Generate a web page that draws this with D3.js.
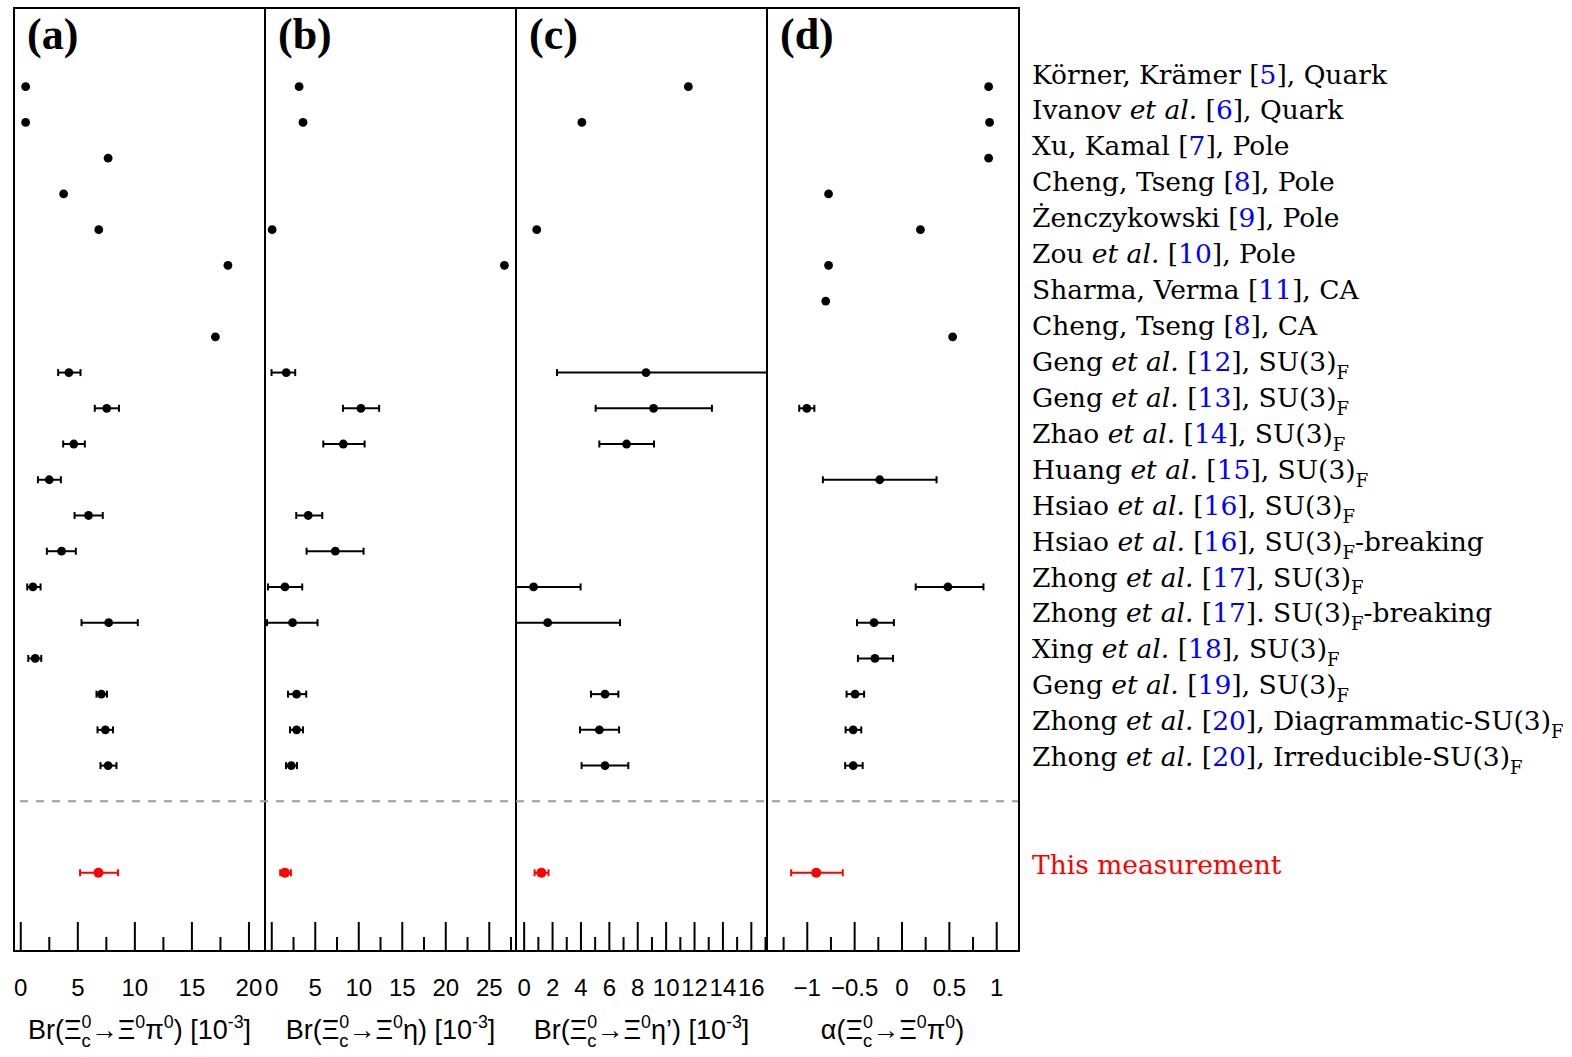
<!DOCTYPE html>
<html>
<head>
<meta charset="utf-8">
<script src="https://cdn.jsdelivr.net/npm/d3@7"></script>
<style>
  body { margin: 0; background: #fff; }
</style>
</head>
<body>
<div id="chart"></div>
<script>
// ---- data ----
var panelLabels = ["(a)", "(b)", "(c)", "(d)"];
var axisTitles = [
    "Br(Ξ^{0}_{c}→Ξ^{0}π^{0}) [10^{-3}]",
    "Br(Ξ^{0}_{c}→Ξ^{0}η) [10^{-3}]",
    "Br(Ξ^{0}_{c}→Ξ^{0}η’) [10^{-3}]",
    "α(Ξ^{0}_{c}→Ξ^{0}π^{0})"
];

// predictions, one entry per legend row (null = no prediction / no error bar)
var brPi0   = [0.47, 0.47, 7.7, 3.8, 6.88, 18.2, null, 17.1, 4.26, 7.58, 4.69, 2.54, 5.98, 3.62, 1.11, 7.75, 1.31, 7.11, 7.46, 7.7];
var brPi0Lo = [null, null, null, null, null, null, null, null, 0.94, 1.05, 0.93, 0.99, 1.22, 1.29, 0.5, 2.38, 0.61, 0.43, 0.69, 0.67];
var brPi0Hi = [null, null, null, null, null, null, null, null, 1.02, 1.07, 0.97, 1.02, 1.25, 1.25, 0.67, 2.55, 0.53, 0.49, 0.67, 0.73];

var brEta   = [3.2, 3.65, null, null, 0.1, 26.8, null, null, 1.72, 10.3, 8.28, null, 4.25, 7.36, 1.57, 2.45, null, 2.91, 2.91, 2.3];
var brEtaLo = [null, null, null, null, null, null, null, null, 1.69, 2.06, 2.3, null, 1.38, 3.3, 1.95, 2.94, null, 0.99, 0.76, 0.61];
var brEtaHi = [null, null, null, null, null, null, null, null, 1.03, 2.1, 2.45, null, 1.61, 3.25, 1.99, 2.87, null, 1.11, 0.74, 0.66];

var brEtaP   = [11.6, 4.1, null, null, 0.92, null, null, null, 8.62, 9.15, 7.25, null, null, null, 0.7, 1.69, null, 5.73, 5.33, 5.73];
var brEtaPLo = [null, null, null, null, null, null, null, null, 6.27, 4.08, 1.92, null, null, null, 3.3, 5.1, null, 0.99, 1.36, 1.65];
var brEtaPHi = [null, null, null, null, null, null, null, null, 10, 4.11, 1.93, null, null, null, 3.31, 5.1, null, 0.94, 1.39, 1.64];

var alpha   = [0.92, 0.93, 0.92, -0.77, 0.2, -0.77, -0.8, 0.54, null, -1.0, null, -0.23, null, null, 0.49, -0.29, -0.28, -0.49, -0.51, -0.51];
var alphaLo = [null, null, null, null, null, null, null, null, null, 0.08, null, 0.6, null, null, 0.34, 0.18, 0.18, 0.09, 0.08, 0.085];
var alphaHi = [null, null, null, null, null, null, null, null, null, 0.08, null, 0.6, null, null, 0.375, 0.21, 0.19, 0.095, 0.085, 0.1];

// this measurement (a, b, c, d)
var measVal = [6.85, 1.57, 1.25, -0.9];
var measLo  = [1.61, 0.54, 0.48, 0.265];
var measHi  = [1.72, 0.69, 0.5, 0.28];

// axis ranges and ticks
var xDomains = [[-0.55, 21.45], [-0.72, 28.13], [-0.54, 17.14], [-1.42, 1.23]];
var majorTicks = [[0, 5, 10, 15, 20], [0, 5, 10, 15, 20, 25], [0, 2, 4, 6, 8, 10, 12, 14, 16], [-1, -0.5, 0, 0.5, 1]];
var minorTicks = [[2.5, 7.5, 12.5, 17.5], [2.5, 7.5, 12.5, 17.5, 22.5, 27.5], [1, 3, 5, 7, 9, 11, 13, 15, 17], [-1.25, -0.75, -0.25, 0.25, 0.75]];

// legend
var legendAuthors = ["Körner, Krämer", "Ivanov et al.", "Xu, Kamal", "Cheng, Tseng", "Żenczykowski", "Zou et al.",
    "Sharma, Verma", "Cheng, Tseng", "Geng et al.", "Geng et al.", "Zhao et al.", "Huang et al.", "Hsiao et al.",
    "Hsiao et al.", "Zhong et al.", "Zhong et al.", "Xing et al.", "Geng et al.", "Zhong et al.", "Zhong et al."];
var legendRefs = [5, 6, 7, 8, 9, 10, 11, 8, 12, 13, 14, 15, 16, 16, 17, 17, 18, 19, 20, 20];
var legendMethods = [", Quark", ", Quark", ", Pole", ", Pole", ", Pole", ", Pole", ", CA", ", CA",
    ", SU(3)_{F}", ", SU(3)_{F}", ", SU(3)_{F}", ", SU(3)_{F}", ", SU(3)_{F}", ", SU(3)_{F}-breaking",
    ", SU(3)_{F}", ". SU(3)_{F}-breaking", ", SU(3)_{F}", ", SU(3)_{F}", ", Diagrammatic-SU(3)_{F}",
    ", Irreducible-SU(3)_{F}"];
var measLabel = "This measurement";

// ---- layout ----
var width = 1572, height = 1057;
var frameLeft = 14, frameTop = 8, frameBottom = 951, panelW = 251;
var legendX = 1032;
var red = "#ff0000";

var svg = d3.select("#chart").append("svg")
    .attr("width", width)
    .attr("height", height);

var y = d3.scaleLinear().domain([0, 22]).range([86.7, 872.8]);
var legendY = d3.scaleLinear().domain([0, 22]).range([83.5, 874]);

var panels = [
    { val: brPi0, lo: brPi0Lo, hi: brPi0Hi },
    { val: brEta, lo: brEtaLo, hi: brEtaHi },
    { val: brEtaP, lo: brEtaPLo, hi: brEtaPHi },
    { val: alpha, lo: alphaLo, hi: alphaHi }
];

// text with ^{sup} and _{sub} pieces
function rich(textSel, str, size) {
    var re = /\^\{([^}]*)\}|_\{([^}]*)\}|([^^_]+)/g, m, shift = 0, prevSup = null;
    while ((m = re.exec(str))) {
        var t = textSel.append("tspan"), s, newShift;
        if (m[1] !== undefined) { newShift = -0.42 * size; s = 0.66 * size; t.text(m[1]); }
        else if (m[2] !== undefined) { newShift = 0.3 * size; s = 0.68 * size; t.text(m[2]); }
        else { newShift = 0; s = size; t.text(m[3]); }
        t.attr("font-size", s).attr("dy", newShift - shift);
        if (m[2] !== undefined && prevSup) {
            t.attr("dx", -prevSup.node().getComputedTextLength());
        }
        prevSup = (m[1] !== undefined) ? t : null;
        shift = newShift;
    }
    return shift;
}

// horizontal error bar with end caps
function errorBar(g, x, v, lo, hi, row, color) {
    var yy = y(row);
    g.append("line")
        .attr("x1", x(v - lo)).attr("x2", x(v + hi))
        .attr("y1", yy).attr("y2", yy)
        .attr("stroke", color).attr("stroke-width", 2);
    [v - lo, v + hi].forEach(function (e) {
        g.append("line")
            .attr("x1", x(e)).attr("x2", x(e))
            .attr("y1", yy - 3.5).attr("y2", yy + 3.5)
            .attr("stroke", color).attr("stroke-width", 2);
    });
}

panels.forEach(function (p, k) {
    var x0 = frameLeft + k * panelW;
    var x = d3.scaleLinear().domain(xDomains[k]).range([x0, x0 + panelW]);

    svg.append("clipPath").attr("id", "clip" + k)
        .append("rect")
        .attr("x", x0).attr("y", frameTop)
        .attr("width", panelW).attr("height", frameBottom - frameTop);

    var g = svg.append("g").attr("clip-path", "url(#clip" + k + ")");

    var pts = p.val.map(function (v, i) {
        return { v: v, lo: p.lo[i], hi: p.hi[i], row: i };
    }).filter(function (d) { return d.v !== null; });

    pts.forEach(function (d) {
        if (d.lo !== null) errorBar(g, x, d.v, d.lo, d.hi, d.row, "#000");
    });

    g.selectAll("circle.pred")
        .data(pts)
        .enter().append("circle")
        .attr("class", "pred")
        .attr("cx", function (d) { return x(d.v); })
        .attr("cy", function (d) { return y(d.row); })
        .attr("r", 4.4)
        .attr("fill", "#000");

    // this measurement
    errorBar(g, x, measVal[k], measLo[k], measHi[k], 22, red);
    g.append("circle")
        .attr("cx", x(measVal[k])).attr("cy", y(22))
        .attr("r", 5).attr("fill", red);

    // ticks (inside, pointing up) and labels below
    var major = svg.append("g")
        .attr("transform", "translate(0," + frameBottom + ")")
        .call(d3.axisBottom(x).tickValues(majorTicks[k])
            .tickFormat(d3.format(""))
            .tickSizeInner(-29).tickSizeOuter(0).tickPadding(28));
    var minor = svg.append("g")
        .attr("transform", "translate(0," + frameBottom + ")")
        .call(d3.axisBottom(x).tickValues(minorTicks[k])
            .tickSizeInner(-14).tickSizeOuter(0).tickFormat(""));
    [major, minor].forEach(function (a) {
        a.select(".domain").remove();
        a.selectAll(".tick line").attr("stroke", "#000").attr("stroke-width", 2);
    });
    major.selectAll(".tick text")
        .attr("fill", "#000")
        .style("font-family", "'Liberation Sans', Arial, sans-serif")
        .style("font-size", "24px");

    // panel label
    svg.append("text")
        .attr("x", x0 + 13).attr("y", 49)
        .style("font-family", "'Liberation Serif', 'DejaVu Serif', serif")
        .style("font-weight", "bold")
        .style("font-size", "44px")
        .text(panelLabels[k]);

    // axis title
    var title = svg.append("text")
        .attr("x", x0 + panelW / 2).attr("y", 1039)
        .attr("text-anchor", "middle")
        .style("font-family", "'Liberation Sans', Arial, sans-serif");
    rich(title, axisTitles[k], 27);

    // panel divider
    if (k > 0) {
        svg.append("line")
            .attr("x1", x0).attr("x2", x0)
            .attr("y1", frameTop).attr("y2", frameBottom)
            .attr("stroke", "#000").attr("stroke-width", 2);
    }
});

// dashed separator between predictions and this measurement
svg.append("line")
    .attr("x1", 20).attr("x2", frameLeft + 4 * panelW)
    .attr("y1", y(20)).attr("y2", y(20))
    .attr("stroke", "#9a9a9a").attr("stroke-width", 2)
    .attr("stroke-dasharray", "8,8");

// frame
svg.append("rect")
    .attr("x", frameLeft).attr("y", frameTop)
    .attr("width", 4 * panelW + 1).attr("height", frameBottom - frameTop)
    .attr("fill", "none").attr("stroke", "#000").attr("stroke-width", 2);

// legend
var legendFont = "'DejaVu Serif', 'Liberation Serif', serif";
var legendSize = 26.5;
legendAuthors.forEach(function (author, i) {
    var t = svg.append("text")
        .attr("x", legendX).attr("y", legendY(i))
        .style("font-family", legendFont)
        .style("font-size", legendSize + "px")
        .attr("fill", "#000");
    var parts = author.split("et al.");
    t.append("tspan").text(parts[0]);
    if (parts.length > 1) {
        t.append("tspan").style("font-style", "italic").text("et al.");
    }
    t.append("tspan").text(" [");
    t.append("tspan").attr("fill", "#0000ff").text(legendRefs[i]);
    t.append("tspan").text("]");
    rich(t, legendMethods[i], legendSize);
});

svg.append("text")
    .attr("x", legendX).attr("y", legendY(22))
    .style("font-family", legendFont)
    .style("font-size", legendSize + "px")
    .attr("fill", red)
    .text(measLabel);
</script>
</body>
</html>
